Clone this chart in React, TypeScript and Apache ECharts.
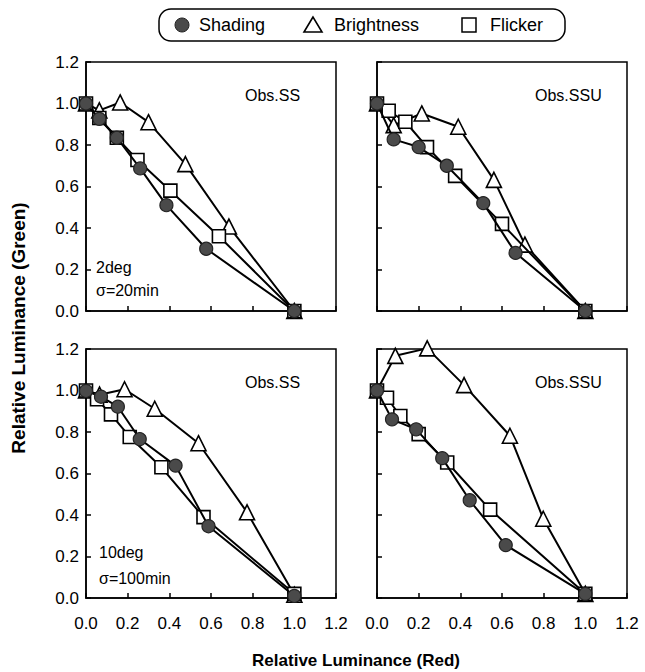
import React, { useEffect, useRef } from "react";
import * as echarts from "echarts";

// Panel data: [red, green]
const shadingTL = [[0, 1.0], [0.064, 0.926], [0.148, 0.835], [0.26, 0.687], [0.386, 0.51], [0.577, 0.3], [1.0, 0.0]];
const flickerTL = [[0, 1.0], [0.064, 0.93], [0.148, 0.835], [0.247, 0.728], [0.405, 0.58], [0.638, 0.36], [1.0, 0.0]];
const brightTL = [[0, 1.0], [0.064, 0.967], [0.164, 1.005], [0.3, 0.91], [0.477, 0.708], [0.686, 0.407], [1.0, 0.0]];

const shadingTR = [[0, 1.0], [0.08, 0.827], [0.2, 0.79], [0.335, 0.7], [0.51, 0.52], [0.665, 0.28], [1.0, 0.0]];
const flickerTR = [[0, 1.0], [0.056, 0.965], [0.136, 0.912], [0.24, 0.79], [0.375, 0.651], [0.6, 0.42], [1.0, 0.0]];
const brightTR = [[0, 1.0], [0.08, 0.896], [0.215, 0.952], [0.39, 0.888], [0.561, 0.632], [0.71, 0.32], [1.0, 0.0]];

const shadingBL = [[0, 0.998], [0.072, 0.97], [0.153, 0.922], [0.258, 0.766], [0.43, 0.638], [0.588, 0.346], [1.0, 0.01]];
const flickerBL = [[0, 1.0], [0.053, 0.958], [0.12, 0.885], [0.21, 0.776], [0.362, 0.63], [0.564, 0.39], [1.0, 0.02]];
const brightBL = [[0, 1.0], [0.065, 0.98], [0.185, 1.006], [0.33, 0.912], [0.54, 0.746], [0.773, 0.413], [1.0, 0.016]];

const shadingBR = [[0, 1.0], [0.072, 0.861], [0.188, 0.813], [0.313, 0.674], [0.445, 0.471], [0.618, 0.255], [1.0, 0.02]];
const flickerBR = [[0, 1.0], [0.048, 0.965], [0.112, 0.877], [0.2, 0.79], [0.337, 0.653], [0.543, 0.426], [1.0, 0.02]];
const brightBR = [[0, 1.0], [0.088, 1.167], [0.241, 1.203], [0.418, 1.026], [0.638, 0.782], [0.798, 0.382], [1.0, 0.02]];

const panelNames = ["Obs.SS", "Obs.SSU", "Obs.SS", "Obs.SSU"];
const legendNames = ["Shading", "Brightness", "Flicker"];
const xTitle = "Relative Luminance (Red)";
const yTitle = "Relative Luminance (Green)";

const panels = [
  { shading: shadingTL, flicker: flickerTL, bright: brightTL },
  { shading: shadingTR, flicker: flickerTR, bright: brightTR },
  { shading: shadingBL, flicker: flickerBL, bright: brightBL },
  { shading: shadingBR, flicker: flickerBR, bright: brightBR },
];

const FONT = "'Liberation Sans', Arial, Helvetica, sans-serif";

export default function App() {
  const ref = useRef<HTMLDivElement>(null);
  useEffect(() => {
    if (!ref.current) return;
    const chart = echarts.init(ref.current, null, { renderer: "svg" });
    const gridPos = [
      { left: 86, top: 62 },
      { left: 377, top: 62 },
      { left: 86, top: 349 },
      { left: 377, top: 349 },
    ];
    const grid = gridPos.map((g) => ({
      left: g.left,
      top: g.top,
      width: 250,
      height: 249,
      show: true,
      borderColor: "#000",
      borderWidth: 1.5,
      backgroundColor: "transparent",
      containLabel: false,
    }));
    const xAxis = gridPos.map((_, i) => ({
      type: "value",
      gridIndex: i,
      min: 0,
      max: 1.2,
      interval: 0.2,
      axisLine: { show: true, lineStyle: { color: "#000", width: 1.5 } },
      axisTick: { show: true, inside: true, length: 5, lineStyle: { color: "#000", width: 1.5 } },
      splitLine: { show: false },
      axisLabel: {
        show: i >= 2,
        formatter: (v: number) => v.toFixed(1),
        color: "#000",
        fontSize: 17,
        fontFamily: FONT,
        margin: 17,
      },
    }));
    const yAxis = gridPos.map((_, i) => ({
      type: "value",
      gridIndex: i,
      min: 0,
      max: 1.2,
      interval: 0.2,
      axisLine: { show: true, lineStyle: { color: "#000", width: 1.5 } },
      axisTick: { show: true, inside: true, length: 5, lineStyle: { color: "#000", width: 1.5 } },
      splitLine: { show: false },
      axisLabel: {
        show: i % 2 === 0,
        formatter: (v: number) => v.toFixed(1),
        color: "#000",
        fontSize: 17,
        fontFamily: FONT,
        margin: 7,
      },
    }));
    const series: any[] = [];
    panels.forEach((p, i) => {
      const base = {
        type: "line",
        xAxisIndex: i,
        yAxisIndex: i,
        lineStyle: { color: "#000", width: 2 },
        showAllSymbol: true,
        silent: true,
        clip: false,
      };
      series.push({
        ...base,
        name: "Brightness",
        data: p.bright,
        symbol: "triangle",
        symbolSize: 15,
        itemStyle: { color: "#fff", borderColor: "#000", borderWidth: 1.6 },
        z: 2,
      });
      series.push({
        ...base,
        name: "Flicker",
        data: p.flicker,
        symbol: "rect",
        symbolSize: 13,
        itemStyle: { color: "#fff", borderColor: "#000", borderWidth: 1.6 },
        z: 3,
      });
      series.push({
        ...base,
        name: "Shading",
        data: p.shading,
        symbol: "circle",
        symbolSize: 13,
        itemStyle: { color: "#4a4a4a", borderColor: "#222", borderWidth: 1.2 },
        z: 4,
      });
    });

    const txt = (x: number, y: number, text: string, size = 16, extra: any = {}) => ({
      type: "text",
      x,
      y,
      style: {
        text,
        fill: "#000",
        font: `${extra.bold ? "bold " : ""}${size}px ${FONT}`,
        textAlign: extra.align || "left",
        textVerticalAlign: "middle",
      },
      ...(extra.rotation ? { rotation: extra.rotation } : {}),
    });

    const graphic: any[] = [
      // legend box
      {
        type: "rect",
        shape: { x: 159, y: 9, width: 406, height: 32, r: 12 },
        style: { fill: "#fff", stroke: "#000", lineWidth: 1.5 },
      },
      { type: "circle", shape: { cx: 182, cy: 25, r: 7 }, style: { fill: "#4a4a4a", stroke: "#222", lineWidth: 1 } },
      txt(199, 25, legendNames[0], 18),
      {
        type: "polygon",
        shape: { points: [[313, 17], [304, 32], [322, 32]] },
        style: { fill: "#fff", stroke: "#000", lineWidth: 1.6 },
      },
      txt(334, 25, legendNames[1], 18),
      { type: "rect", shape: { x: 462, y: 18, width: 14, height: 14 }, style: { fill: "#fff", stroke: "#000", lineWidth: 1.5 } },
      txt(490, 25, legendNames[2], 18),
      // panel annotations
      txt(245, 95, panelNames[0], 16),
      txt(535, 95, panelNames[1], 16),
      txt(245, 382, panelNames[2], 16),
      txt(535, 382, panelNames[3], 16),
      txt(96, 267, "2deg", 16),
      txt(96, 290, "σ=20min", 16),
      txt(99, 552, "10deg", 16),
      txt(99, 578, "σ=100min", 16),
      // axis titles
      txt(356, 660, xTitle, 17, { bold: true, align: "center" }),
      txt(18, 328, yTitle, 19, { bold: true, align: "center", rotation: Math.PI / 2 }),
    ];

    chart.setOption({
      animation: false,
      backgroundColor: "#fff",
      grid,
      xAxis,
      yAxis,
      series,
      graphic,
    });
    return () => chart.dispose();
  }, []);
  return (
    <div
      ref={ref}
      style={{ position: "fixed", left: 0, top: 0, width: 645, height: 672, background: "#fff" }}
    />
  );
}
